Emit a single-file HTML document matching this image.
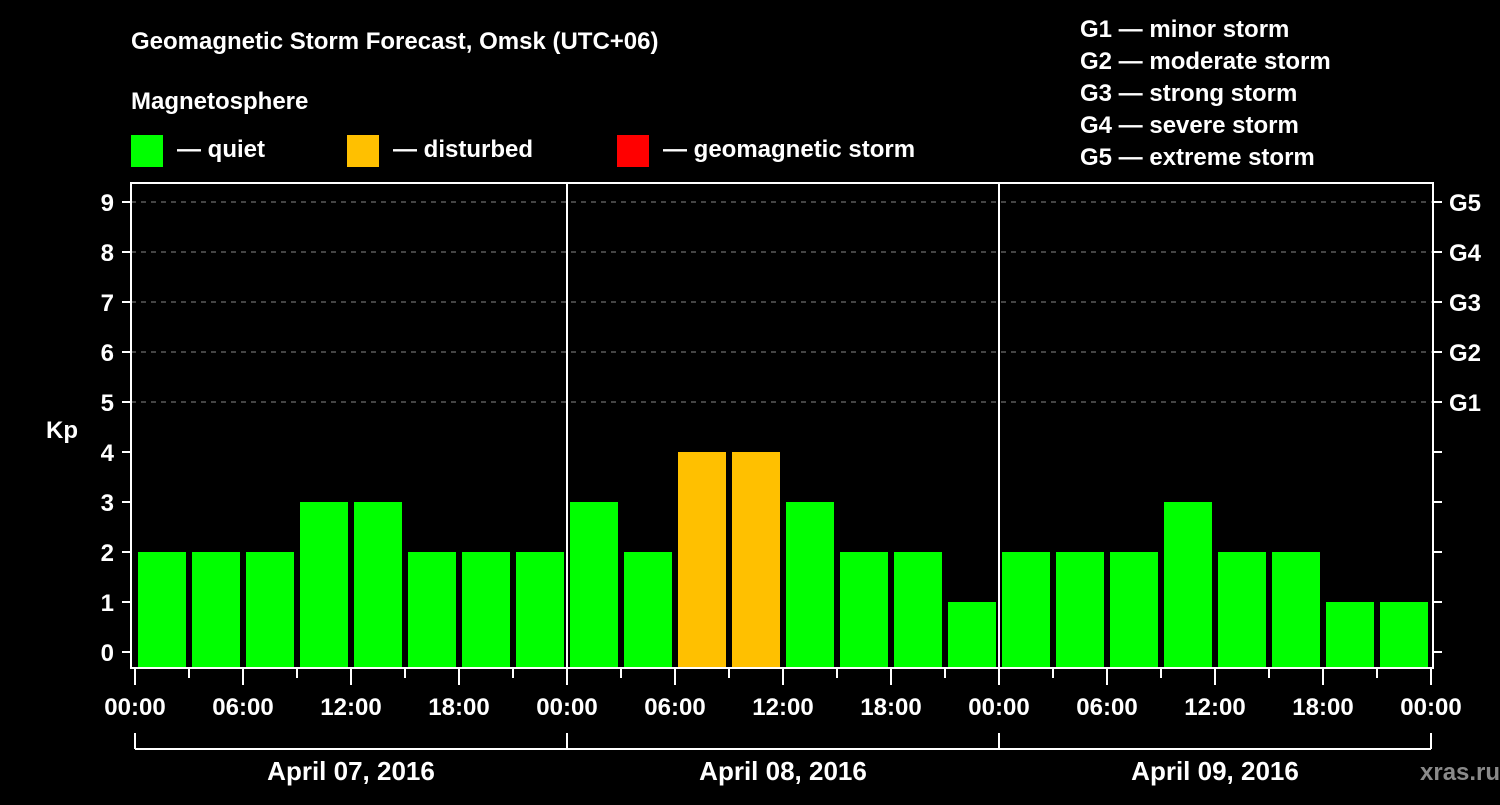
<!DOCTYPE html>
<html><head><meta charset="utf-8"><style>
body{margin:0;background:#000;width:1500px;height:800px;overflow:hidden}
svg text{font-family:"Liberation Sans",Arial,sans-serif;font-weight:bold;fill:#fff}
</style></head><body>
<svg id="c" width="1500" height="800">
<text x="131" y="49" font-size="24">Geomagnetic Storm Forecast, Omsk (UTC+06)</text>
<text x="131" y="109" font-size="24">Magnetosphere</text>
<rect x="131" y="135" width="32" height="32" fill="#00ff00"/>
<text x="177" y="157" font-size="24">— quiet</text>
<rect x="347" y="135" width="32" height="32" fill="#ffc000"/>
<text x="393" y="157" font-size="24">— disturbed</text>
<rect x="617" y="135" width="32" height="32" fill="#ff0000"/>
<text x="663" y="157" font-size="24">— geomagnetic storm</text>
<g font-size="24">
<text x="1080" y="37">G1 — minor storm</text>
<text x="1080" y="69">G2 — moderate storm</text>
<text x="1080" y="101">G3 — strong storm</text>
<text x="1080" y="133">G4 — severe storm</text>
<text x="1080" y="165">G5 — extreme storm</text>
</g>
<text x="62" y="438" font-size="24" text-anchor="middle">Kp</text>
<text x="1420" y="780" font-size="24" fill="#888" style="fill:#8a8a8a">xras.ru</text>
<g id="grid"></g><g id="bars"></g><g id="axes"></g>
</svg>
<script>
const kpValues=[2,2,2,3,3,2,2,2, 3,2,4,4,3,2,2,1, 2,2,2,3,2,2,1,1];
const dayLabels=["April 07, 2016","April 08, 2016","April 09, 2016"];
const timeLabels=["00:00","06:00","12:00","18:00"];
const gLabels=["G1","G2","G3","G4","G5"];
const NS="http://www.w3.org/2000/svg";
const L=131,R=1433,T=183,B=668,X0=135,DAY=432;
const y=v=>652-50*v;
const x=i=>X0+54*i;
function mk(t,a,p){const e=document.createElementNS(NS,t);for(const k in a)e.setAttribute(k,a[k]);document.getElementById(p).appendChild(e);return e;}
for(let k=5;k<=9;k++){
 const e=mk("line",{x1:L,x2:R,y1:y(k),y2:y(k),stroke:"#888","stroke-dasharray":"5,5"},"grid");
 
 
}
kpValues.forEach((v,i)=>{
 const col=v>=5?"#ff0000":(v>=4?"#ffc000":"#00ff00");
 const e=mk("rect",{x:x(i)+3,y:y(v),width:48,height:667-y(v),fill:col},"bars");
 
 
});
const f=mk("rect",{x:L,y:T,width:R-L,height:B-T,fill:"none",stroke:"#fff","stroke-width":2},"axes");


for(let d=1;d<3;d++){const e=mk("line",{x1:X0+DAY*d,x2:X0+DAY*d,y1:T,y2:B,stroke:"#fff","stroke-width":2},"axes");
 
 }
for(let k=0;k<=9;k++){
 mk("line",{x1:122,x2:L,y1:y(k),y2:y(k),stroke:"#fff","stroke-width":2},"axes");
 mk("line",{x1:R,x2:1442,y1:y(k),y2:y(k),stroke:"#fff","stroke-width":2},"axes");
 const t=mk("text",{x:114,y:y(k)+9,"font-size":24,"text-anchor":"end"},"axes");t.textContent=k;
 
 
}
gLabels.forEach((g,j)=>{const t=mk("text",{x:1449,y:y(5+j)+9,"font-size":24},"axes");t.textContent=g;
 
 });
for(let i=0;i<=24;i++){
 const major=i%2==0;
 mk("line",{x1:x(i),x2:x(i),y1:B,y2:major?685:678,stroke:"#fff","stroke-width":2},"axes");
 if(major){const t=mk("text",{x:x(i),y:715,"font-size":24,"text-anchor":"middle"},"axes");t.textContent=timeLabels[(i/2)%4];
  
  }
}
mk("line",{x1:X0,x2:X0+DAY*3,y1:749,y2:749,stroke:"#fff","stroke-width":2},"axes");
for(let d=0;d<=3;d++)mk("line",{x1:X0+DAY*d,x2:X0+DAY*d,y1:733,y2:749,stroke:"#fff","stroke-width":2},"axes");
dayLabels.forEach((s,d)=>{const t=mk("text",{x:X0+DAY*d+DAY/2,y:780,"font-size":26,"text-anchor":"middle"},"axes");t.textContent=s;
 
 });
</script>
</body></html>
